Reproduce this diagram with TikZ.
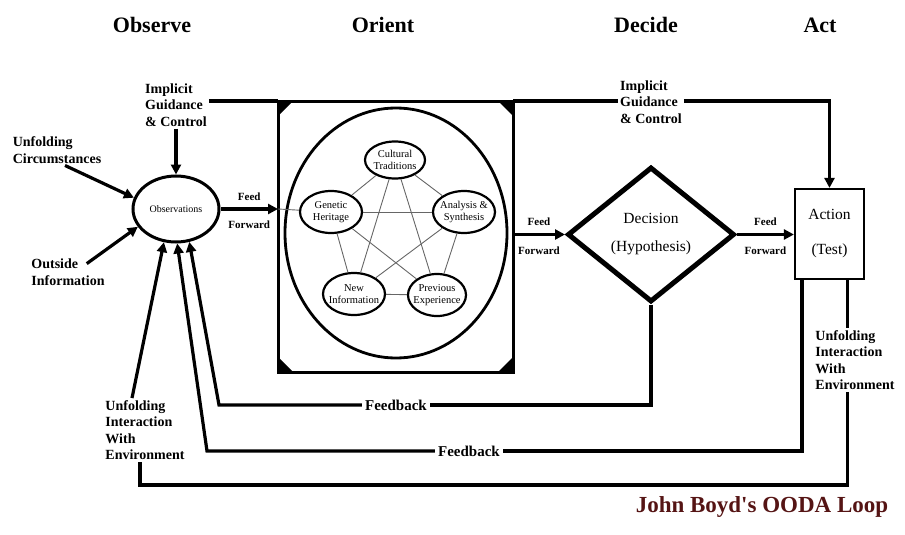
\documentclass[tikz,border=0pt]{standalone}
\usepackage{fontspec}
\setmainfont{Liberation Serif}
\usetikzlibrary{shapes.geometric,arrows.meta}

\definecolor{boydred}{RGB}{85,20,20}

\begin{document}
\begin{tikzpicture}[x=1pt,y=-1pt,
  >={Triangle[length=10pt,width=10pt]},
  conn/.style={line width=3.2pt},
  link/.style={gray!80!black,line width=0.9pt},
  head/.style={font=\fontsize{22}{24}\selectfont\bfseries},
  lbl/.style={align=left,inner sep=2pt,font=\fontsize{14}{16.5}\selectfont\bfseries},
  feed/.style={font=\fontsize{11}{12}\selectfont\bfseries,inner sep=1pt},
  fback/.style={font=\fontsize{15}{17}\selectfont\bfseries,inner sep=3pt},
  trait/.style={ellipse,draw,line width=2.2pt,minimum width=62pt,minimum height=42pt,
    inner sep=-4pt,align=center,font=\fontsize{10.5}{12}\selectfont}]

\useasboundingbox (0,0) rectangle (905,535);

% titulos
\node[head] (observe) at (152,25) {Observe};
\node[head] (orienthead) at (383,25) {Orient};
\node[head] (decide) at (646,25) {Decide};
\node[head] (acthead) at (820,25) {Act};

% observe
\node[ellipse,draw,line width=3pt,minimum width=86pt,minimum height=66pt,inner sep=0pt,
  font=\fontsize{10}{12}\selectfont] (obs) at (176,209) {Observations};
\node[lbl] (igcA) at (176,105) {Implicit\\Guidance\\\& Control};
\node[lbl] (unfold) at (57,150) {Unfolding\\Circumstances};
\node[lbl] (outside) at (68,272) {Outside\\Information};
\node[lbl] (unfL) at (145,430) {Unfolding\\Interaction\\With\\Environment};

% orient
\node[draw,line width=3pt,outer sep=0pt,minimum width=235pt,minimum height=271pt] (orient) at (395.5,236.5) {};
\node[ellipse,draw,line width=2.8pt,minimum width=222pt,minimum height=250pt] (ring) at (396,233) {};
\fill (orient.north west) -- ++(15,0) -- ++(-15,15) -- cycle;
\fill (orient.north east) -- ++(-15,0) -- ++(15,15) -- cycle;
\fill (orient.south west) -- ++(15,0) -- ++(-15,-15) -- cycle;
\fill (orient.south east) -- ++(-15,0) -- ++(15,-15) -- cycle;

\node[trait,minimum width=60pt,minimum height=37pt] (cult) at (395,160) {Cultural\\Traditions};
\node[trait] (gen) at (331,212) {Genetic\\Heritage};
\node[trait] (ana) at (464,212) {Analysis \&\\Synthesis};
\node[trait] (new) at (354,294) {New\\Information};
\node[trait,minimum width=58pt] (prev) at (437,295) {Previous\\Experience};

\draw[link] (cult) -- (gen);
\draw[link] (cult) -- (ana);
\draw[link] (cult) -- (new);
\draw[link] (cult) -- (prev);
\draw[link] (gen) -- (ana);
\draw[link] (gen) -- (new);
\draw[link] (gen) -- (prev);
\draw[link] (ana) -- (new);
\draw[link] (ana) -- (prev);
\draw[link] (new) -- (prev);

% decide / act
\node[diamond,draw,line width=5pt,minimum width=167pt,minimum height=135pt,inner sep=0pt,
  align=center,font=\fontsize{15.5}{28}\selectfont] (dec) at (651,234.5) {Decision\\(Hypothesis)};
\node[draw,line width=2.2pt,minimum width=69pt,minimum height=90pt,inner sep=0pt,
  align=center,font=\fontsize{15.5}{35}\selectfont] (action) at (829.5,234) {Action\\(Test)};

\node[lbl] (igcB) at (651,102) {Implicit\\Guidance\\\& Control};
\node[lbl] (unfR) at (855,360) {Unfolding\\Interaction\\With\\Environment};
\node[fback] (fb1) at (396,405) {Feedback};
\node[fback] (fb2) at (469,451) {Feedback};
\node[font=\fontsize{23}{25}\selectfont\bfseries,text=boydred] (title) at (762,507) {John Boyd\textquotesingle s OODA Loop};

% flechas
\draw[conn,->] (igcA) -- (obs);
\draw[conn,->] ([shift={(8,0)}]unfold.south) -- (obs.165);
\draw[conn,->] ([shift={(-20,7)}]outside.north east) -- (obs.205);

\draw[conn] (igcA.east |- orient.north) -- (orient.north west);
\draw[conn] (orient.north east) -- (igcB.west |- orient.north east);
\draw[conn,->] (igcB.east |- orient.north east) -| (action.north);

\draw[conn,->] (obs) -- node[feed,above=6pt] (ffa1) {Feed} node[feed,below=9pt] (ffa2) {Forward} (orient.west |- obs);
\draw[link] (orient.west |- obs) -- (gen);
\draw[conn,->] (orient.east |- dec) -- node[feed,above=6pt] (ffb1) {Feed} node[feed,below=10pt] (ffb2) {Forward} (dec.west);
\draw[conn,->] (dec.east) -- node[feed,above=6pt] (ffc1) {Feed} node[feed,below=10pt] (ffc2) {Forward} (action.west |- dec.east);

% feedback
\coordinate (fb1c) at (219,405);
\coordinate (fb2c) at (207,451);
\draw[conn] (dec.south) |- (fb1.east);
\draw[conn,->] (fb1.west) -- (fb1c) -- (obs.292);
\draw[conn] ([xshift=8pt]action.south west) |- (fb2.east);
\draw[conn,->] (fb2.west) -- (fb2c) -- (obs.272);

% interaccion con el entorno
\coordinate (envtop) at ([xshift=-18pt]action.south east);
\coordinate (loopc) at (140,485);
\draw[conn] (envtop) -- (envtop |- unfR.north);
\draw[conn] (envtop |- unfR.south) |- (loopc) -- (loopc |- unfL.south);
\draw[conn,->] ([xshift=-13pt]unfL.north) -- (obs.250);

\end{tikzpicture}
\end{document}
